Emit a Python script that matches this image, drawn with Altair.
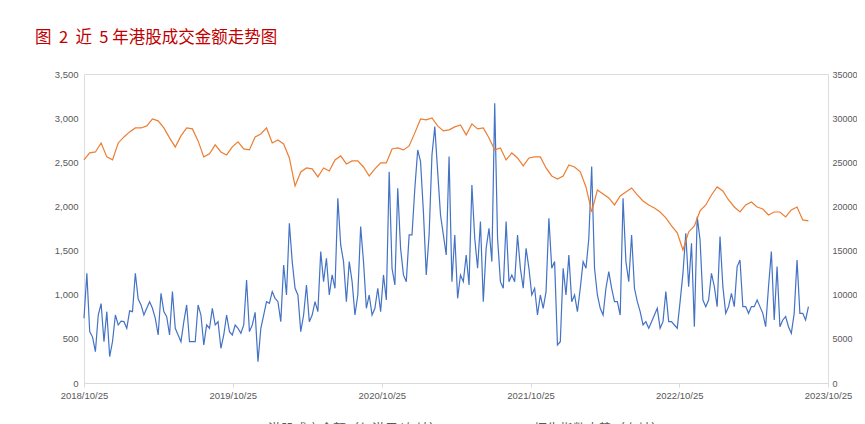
import altair as alt
import pandas as pd

NB = "\u00a0"
title_text = "图" + NB * 2 + "2" + NB * 2 + "近" + NB * 2 + "5" + NB + "年港股成交金额走势图"
series_names = ["港股成交金额（亿港元/左轴）", "恒生指数走势（右轴）"]
series_colors = ["#4472C4", "#ED7D31"]
left_ticks = [0, 500, 1000, 1500, 2000, 2500, 3000, 3500]
right_ticks = [0, 5000, 10000, 15000, 20000, 25000, 30000, 35000]
tick_years = [2018, 2019, 2020, 2021, 2022, 2023]

# weekly Hong Kong stock turnover (亿港元), from 2018-10-25
turnover = [
    733, 1243, 582, 520, 355, 770, 900, 468, 808, 300,
    470, 770, 657, 700, 695, 620, 817, 808, 1243, 950,
    884, 770, 846, 921, 846, 733, 544, 1016, 808, 751,
    544, 1035, 620, 544, 468, 695, 884, 468, 468, 468,
    884, 770, 431, 657, 620, 846, 657, 695, 393, 544,
    770, 582, 544, 657, 620, 563, 657, 1167, 582, 657,
    800, 241, 620, 770, 921, 903, 1035, 959, 921, 695,
    1337, 997, 1809, 1375, 1073, 997, 582, 770, 1110, 695,
    770, 921, 808, 1488, 1148, 1413, 997, 1224, 1073, 2092,
    1564, 1375, 921, 1375, 1148, 770, 997, 1771, 1375, 846,
    997, 770, 846, 1073, 808, 1224, 940, 2394, 1299, 1110,
    2206, 1526, 1224, 1148, 1677, 1677, 2206, 2640, 2508, 1941,
    1224, 1677, 2583, 2904, 2394, 1903, 1677, 1450, 2564, 1148,
    1677, 959, 1224, 1148, 1450, 1110, 2243, 1639, 1299, 1828,
    921, 1526, 1752, 1375, 3169, 1639, 1148, 1073, 1828, 1148,
    1224, 1148, 1677, 1299, 1073, 1526, 1299, 997, 1073, 770,
    997, 846, 1035, 1866, 1299, 1375, 431, 468, 1299, 997,
    1450, 921, 997, 808, 1073, 1375, 1299, 1639, 2451, 1299,
    997, 846, 770, 1073, 1261, 1073, 921, 921, 770, 2092,
    1375, 1148, 1677, 1073, 921, 808, 657, 695, 620, 695,
    770, 846, 620, 695, 1035, 695, 695, 657, 620, 921,
    1242, 1696, 1091, 1582, 638, 1884, 1620, 940, 865, 940,
    1242, 1091, 865, 1658, 1091, 789, 865, 1016, 865, 1318,
    1394, 865, 865, 789, 865, 865, 940, 865, 789, 638,
    1091, 1488, 714, 1318, 638, 714, 752, 638, 563, 789,
    1394, 789, 789, 714, 865,
]

# bi-weekly Hang Seng Index, from 2018-10-25
hsi = [
    25270, 26060, 26170, 27190, 25610, 25270, 27190, 27870, 28440, 28890,
    28890, 29120, 29910, 29690, 28890, 27760, 26740, 27990, 28890, 28780,
    27420, 25610, 25950, 26970, 26170, 25830, 26740, 27310, 26510, 26400,
    27870, 28210, 28890, 27190, 27530, 27080, 25490, 22320, 23910, 24360,
    24250, 23340, 24360, 24020, 25270, 25720, 24810, 25150, 25150, 24470,
    23450, 24250, 24930, 24930, 26510, 26630, 26400, 26850, 28330, 29910,
    29800, 30030, 29120, 28550, 28670, 29010, 29230, 28100, 29350, 28780,
    28890, 27760, 26400, 26630, 25270, 26060, 25490, 24590, 25490, 25610,
    25610, 24360, 23450, 23110, 23450, 24700, 24470, 23910, 22210, 19370,
    21870, 21410, 20960, 20170, 21190, 21640, 22090, 21300, 20620, 20170,
    19830, 19370, 18700, 17790, 17000, 15070, 17110, 17790, 19490, 20170,
    21300, 22210, 21750, 20730, 19940, 19370, 20170, 20510, 19940, 19710,
    19030, 19370, 19370, 18810, 19600, 19940, 18470, 18360,
]

df_turn = pd.DataFrame({
    "date": pd.date_range("2018-10-25", periods=len(turnover), freq="7D").strftime("%Y-%m-%d"),
    "value": turnover,
    "series": series_names[0],
})
df_hsi = pd.DataFrame({
    "date": pd.date_range("2018-10-25", periods=len(hsi), freq="14D").strftime("%Y-%m-%d"),
    "value": hsi,
    "series": series_names[1],
})

FONT = "Noto Sans CJK SC"
TICK_FONT = "Liberation Sans"
LABEL_COLOR = "#595959"
AXIS_COLOR = "#D9D9D9"

x_enc = alt.X(
    "date:T",
    scale=alt.Scale(domain=[alt.DateTime(year=2018, month=10, date=25),
                            alt.DateTime(year=2023, month=10, date=25)]),
    axis=alt.Axis(
        values=[alt.DateTime(year=y, month=10, date=25) for y in tick_years],
        format="%Y/%m/%d", title=None, grid=False,
        domainColor=AXIS_COLOR, tickColor=AXIS_COLOR, tickSize=4,
        labelColor=LABEL_COLOR, labelFontSize=9.5, labelFont=TICK_FONT,
        labelFlush=False, labelOverlap=False, labelPadding=3,
    ),
)

color_scale = alt.Scale(domain=series_names, range=series_colors)

blue = alt.Chart(df_turn).mark_line(strokeWidth=1.2).encode(
    x=x_enc,
    y=alt.Y("value:Q", scale=alt.Scale(domain=[0, 3500], nice=False),
            axis=alt.Axis(values=left_ticks, format=",.0f", title=None, grid=False,
                          domain=False, ticks=False, labelColor=LABEL_COLOR,
                          labelFontSize=9.5, labelFont=TICK_FONT, labelPadding=6)),
    color=alt.Color("series:N", scale=color_scale,
                    legend=alt.Legend(orient="none", legendX=153, legendY=342,
                                      direction="horizontal", title=None,
                                      symbolType="stroke", symbolStrokeWidth=2,
                                      symbolSize=500, labelFontSize=13,
                                      labelFont=FONT, labelColor=LABEL_COLOR,
                                      columnPadding=57, labelOffset=6,
                                      labelLimit=400)),
)

orange = alt.Chart(df_hsi).mark_line(strokeWidth=1.2).encode(
    x=x_enc,
    y=alt.Y("value:Q", scale=alt.Scale(domain=[0, 35000], nice=False),
            axis=alt.Axis(values=right_ticks, format="d", title=None, grid=False,
                          orient="right", domain=False, ticks=False,
                          labelColor=LABEL_COLOR, labelFontSize=9, labelFont=TICK_FONT,
                          labelPadding=4)),
    color=alt.Color("series:N", scale=color_scale),
)

chart = alt.layer(blue, orange).resolve_scale(y="independent").properties(
    width=744,
    height=309,
    autosize=alt.AutoSizeParams(type="none"),
    padding={"left": 76, "top": 66, "right": 29, "bottom": 60},
    title=alt.TitleParams(text=title_text, anchor="start", frame="group", dx=-49,
                          offset=23, fontSize=16.5, color="#C00000", font=FONT,
                          fontWeight="normal"),
).configure_view(stroke=None).configure(background="white")

chart.save("out.html", embed_options={"renderer": "svg", "actions": False})
